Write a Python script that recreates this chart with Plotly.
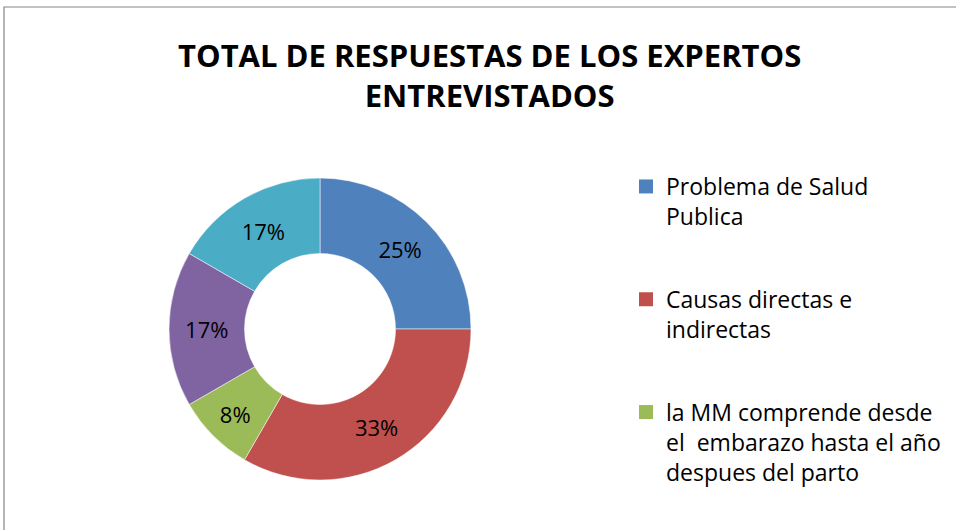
import plotly.graph_objects as go

# ---- data ----
labels = [
    "Problema de Salud<br>Publica",
    "Causas directas e<br>indirectas",
    "la MM comprende desde<br>el  embarazo hasta el año<br>despues del parto",
    "Categoría 4",
    "Categoría 5",
]
values = [3, 4, 1, 2, 2]
colors = ["#4F81BD", "#C0504D", "#9BBB59", "#8064A2", "#4BACC6"]
legend_count = 3  # only the first three legend entries are visible in the reference
title_text = "TOTAL DE RESPUESTAS DE LOS EXPERTOS<br>ENTREVISTADOS"

W, H = 956, 530
FONT = "Open Sans"

fig = go.Figure()
fig.add_trace(go.Pie(
    labels=labels,
    values=values,
    hole=0.5,
    sort=False,
    direction="clockwise",
    rotation=0,
    marker=dict(colors=colors, line=dict(color="white", width=0.5)),
    texttemplate="%{percent:.0%}",
    textposition="inside",
    insidetextorientation="horizontal",
    textfont=dict(family=FONT, size=22, color="black"),
    showlegend=False,
    domain=dict(x=[169 / W, 471 / W], y=[1 - 480 / H, 1 - 178 / H]),
))

for i in range(legend_count):
    fig.add_trace(go.Scatter(
        x=[None], y=[None], mode="markers", name=labels[i],
        marker=dict(symbol="square", size=14, color=colors[i]),
        legendgroup=str(i), showlegend=True,
    ))

fig.update_xaxes(visible=False)
fig.update_yaxes(visible=False)

fig.add_annotation(
    text="<b>" + title_text + "</b>", xref="paper", yref="paper",
    x=489 / W, y=1 - 75 / H, xanchor="center", yanchor="middle",
    showarrow=False, font=dict(family=FONT, size=31, color="black"),
)

fig.add_shape(type="rect", xref="paper", yref="paper",
              x0=4 / W, x1=1.02, y0=-0.02, y1=1 - 7 / H,
              line=dict(color="#868686", width=1.2), fillcolor="rgba(0,0,0,0)")

fig.update_layout(
    width=W, height=H,
    margin=dict(l=0, r=0, t=0, b=0),
    paper_bgcolor="white", plot_bgcolor="white",
    legend=dict(
        x=626 / W, y=1 - 165 / H, xanchor="left", yanchor="top",
        font=dict(family=FONT, size=23, color="black"),
        tracegroupgap=50, itemsizing="trace", valign="top",
        bgcolor="rgba(0,0,0,0)",
    ),
)

fig.write_html("out.html", config={"displayModeBar": False},
               post_script="document.body.style.margin='0';")
